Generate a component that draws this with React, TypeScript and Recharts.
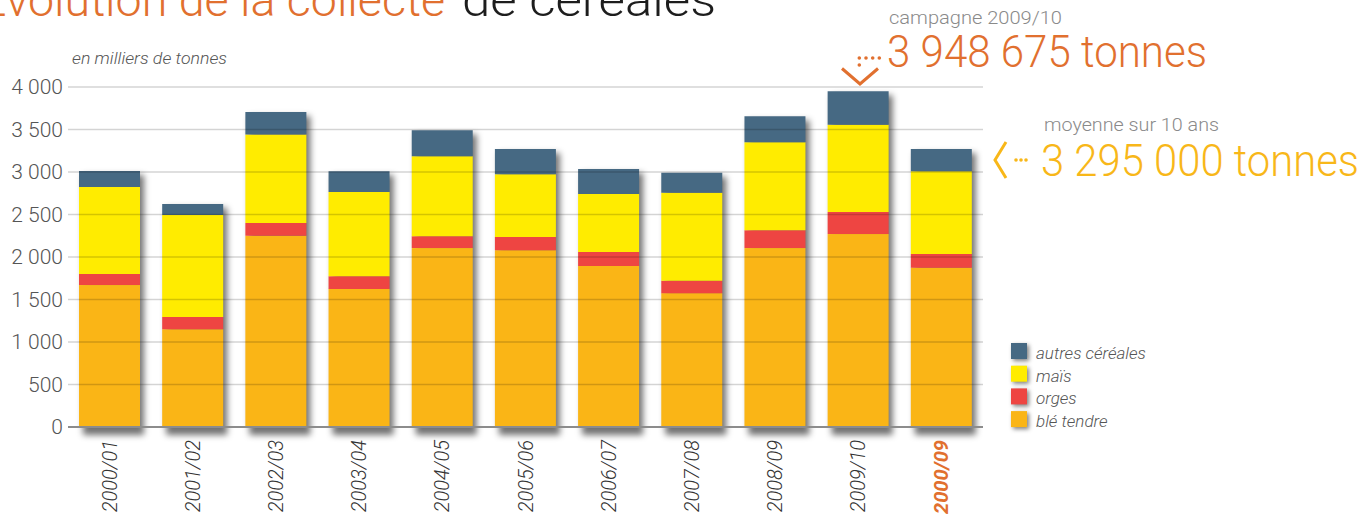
import React from 'react';
import { BarChart, Bar, XAxis, YAxis, ReferenceLine } from 'recharts';

const categories = ['2000/01', '2001/02', '2002/03', '2003/04', '2004/05', '2005/06', '2006/07', '2007/08', '2008/09', '2009/10', '2000/09'];
const ble = [1670, 1150, 2250, 1625, 2105, 2080, 1895, 1575, 2105, 2270, 1875];
const orges = [130, 145, 150, 150, 140, 155, 165, 145, 210, 260, 160];
const mais = [1024, 1200, 1040, 990, 940, 740, 680, 1035, 1035, 1025, 975];
const autres = [188, 130, 265, 245, 305, 295, 295, 235, 305, 395, 260];
const yTicks = [0, 500, 1000, 1500, 2000, 2500, 3000, 3500, 4000];

const seriesNames = { autres: 'autres céréales', mais: 'maïs', orges: 'orges', ble: 'blé tendre' };
const COLORS = { ble: '#FAB516', orges: '#EE4542', mais: '#FFEC00', autres: '#466983' };
const ORANGE = '#E1702F';
const YELLOW = '#F8B719';
const FONT = 'Roboto, "Open Sans", sans-serif';

const data = categories.map((c, i) => ({ cat: c, ble: ble[i], orges: orges[i], mais: mais[i], autres: autres[i] }));

const fmt = (v: number) => (v >= 1000 ? `${Math.floor(v / 1000)} ${String(v % 1000).padStart(3, '0')}` : String(v));

const BleShape = (props: any) => {
  const { x, y, width, height, payload, fill } = props;
  const total = payload.ble + payload.orges + payload.mais + payload.autres;
  const k = height / payload.ble;
  const H = total * k;
  const top = y + height - H;
  return (
    <g>
      <rect x={x + 4} y={top + 4} width={width} height={H + 4} fill="rgba(0,0,0,0.55)" filter="url(#bshadow)" />
      <rect x={x} y={y} width={width} height={height} fill={fill} />
    </g>
  );
};

const XTick = (props: any) => {
  const { x, y, payload, index } = props;
  const last = index === categories.length - 1;
  return (
    <g transform={`translate(${x + 7},${y}) rotate(-90)`}>
      <text
        x={0}
        y={0}
        textAnchor="end"
        fontFamily={FONT}
        fontStyle="italic"
        fontWeight={last ? 700 : 300}
        fontSize={20}
        fill={last ? ORANGE : '#333'}
      >
        {payload.value}
      </text>
    </g>
  );
};

const legendItems: Array<keyof typeof seriesNames> = ['autres', 'mais', 'orges', 'ble'];

export default function App() {
  return (
    <div style={{ position: 'absolute', left: 0, top: 0, width: 1365, height: 518, overflow: 'hidden', background: '#fff' }}>
      <svg width={0} height={0} style={{ position: 'absolute' }}>
        <defs>
          <filter id="bshadow" x="-30%" y="-30%" width="160%" height="160%">
            <feGaussianBlur stdDeviation="3" />
          </filter>
        </defs>
      </svg>
      <BarChart
        width={1365}
        height={518}
        data={data}
        margin={{ top: 87, right: 382, bottom: 0, left: 0 }}
        barSize={61}
      >
        <XAxis
          dataKey="cat"
          height={91}
          axisLine={false}
          tickLine={false}
          tickSize={0}
          tickMargin={13}
          interval={0}
          tick={<XTick />}
        />
        <YAxis
          width={68}
          domain={[0, 4000]}
          ticks={yTicks}
          tickFormatter={fmt}
          axisLine={false}
          tickLine={false}
          tickSize={0}
          tickMargin={5}
          tick={{ fill: '#555', fontSize: 21, fontFamily: FONT, fontWeight: 300 }}
        />
        <Bar dataKey="ble" stackId="s" fill={COLORS.ble} shape={<BleShape />} isAnimationActive={false} />
        <Bar dataKey="orges" stackId="s" fill={COLORS.orges} isAnimationActive={false} />
        <Bar dataKey="mais" stackId="s" fill={COLORS.mais} isAnimationActive={false} />
        <Bar dataKey="autres" stackId="s" fill={COLORS.autres} isAnimationActive={false} />
        {yTicks.map((t) => (
          <ReferenceLine
            key={t}
            y={t}
            stroke={t === 0 ? '#8c8c8c' : 'rgba(0,0,0,0.17)'}
            strokeWidth={t === 0 ? 1.8 : 1.5}
          />
        ))}
      </BarChart>
      <svg width={1365} height={518} style={{ position: 'absolute', left: 0, top: 0, pointerEvents: 'none' }}>
        <defs>
          <filter id="lshadow" x="-50%" y="-50%" width="200%" height="200%">
            <feGaussianBlur stdDeviation="2" />
          </filter>
        </defs>
        {/* Title */}
        <text x={-20} y={16} fontFamily={FONT} fontWeight={300} fontSize={46} fill={ORANGE} textLength={465} lengthAdjust="spacingAndGlyphs">
          Évolution de la collecte
        </text>
        <text x={462} y={16} fontFamily={FONT} fontWeight={300} fontSize={46} fill="#1d1d1d" textLength={254} lengthAdjust="spacingAndGlyphs">
          de céréales
        </text>
        {/* unit */}
        <text x={72} y={64} fontFamily={FONT} fontStyle="italic" fontWeight={300} fontSize={17} fill="#555" textLength={155} lengthAdjust="spacingAndGlyphs">
          en milliers de tonnes
        </text>
        {/* campagne annotation */}
        <text x={889} y={24} fontFamily={FONT} fontWeight={300} fontSize={19} fill="#8a8a8a" textLength={173} lengthAdjust="spacingAndGlyphs">
          campagne 2009/10
        </text>
        <text x={887} y={67} fontFamily={FONT} fontWeight={300} fontSize={45} fill={ORANGE} textLength={320} lengthAdjust="spacingAndGlyphs">
          3 948 675 tonnes
        </text>
        <polyline points="842,68.5 860,84 878,68.5" fill="none" stroke={ORANGE} strokeWidth={3} />
        {[[859.3, 58], [866, 58], [872.7, 58], [879.3, 58], [859.3, 65]].map(([cx, cy], i) => (
          <circle key={i} cx={cx} cy={cy} r={1.8} fill={ORANGE} />
        ))}
        {/* moyenne annotation */}
        <text x={1044} y={131} fontFamily={FONT} fontWeight={300} fontSize={19} fill="#8a8a8a" textLength={175} lengthAdjust="spacingAndGlyphs">
          moyenne sur 10 ans
        </text>
        <text x={1041} y={176} fontFamily={FONT} fontWeight={300} fontSize={45} fill={YELLOW} textLength={318} lengthAdjust="spacingAndGlyphs">
          3 295 000 tonnes
        </text>
        <polyline points="1006,142 995,160 1006,178" fill="none" stroke={YELLOW} strokeWidth={3} />
        {[1016, 1021, 1026].map((cx, i) => (
          <circle key={i} cx={cx} cy={160} r={1.8} fill={YELLOW} />
        ))}
        {/* legend */}
        {legendItems.map((k, i) => {
          const top = 343 + i * 22.7;
          return (
            <g key={k}>
              <rect x={1013} y={top + 2} width={16} height={16} fill="rgba(0,0,0,0.5)" filter="url(#lshadow)" />
              <rect x={1011} y={top} width={16} height={16} fill={COLORS[k]} />
              <text x={1036} y={top + 16} fontFamily={FONT} fontStyle="italic" fontWeight={300} fontSize={17} fill="#555">
                {seriesNames[k]}
              </text>
            </g>
          );
        })}
      </svg>
    </div>
  );
}
